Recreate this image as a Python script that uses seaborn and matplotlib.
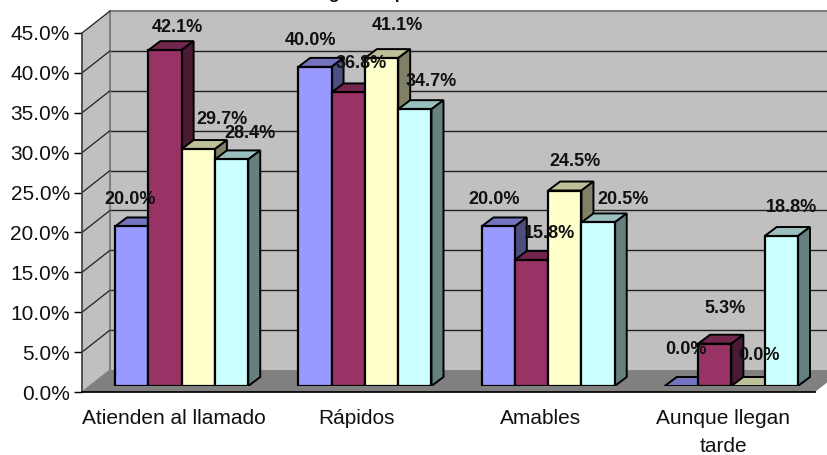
"""
Percent bars with the old spreadsheet 3D look: seaborn draws the front faces,
the walls and bar depth are added in display pixels.
"""
import numpy as np
import pandas as pd
import matplotlib
matplotlib.use("Agg")
import matplotlib.pyplot as plt
import seaborn as sns
from matplotlib.patches import Polygon
from matplotlib.transforms import IdentityTransform

categories = ["Atienden al llamado", "Rápidos", "Amables", "Aunque llegan\ntarde"]
series_names = ["A", "B", "C", "D"]
series_a = [20.0, 40.0, 20.0, 0.0]
series_b = [42.1, 36.8, 15.8, 5.3]
series_c = [29.7, 41.1, 24.5, 0.0]
series_d = [28.4, 34.7, 20.5, 18.8]
y_ticks = [0, 5, 10, 15, 20, 25, 30, 35, 40, 45]
title_text = "Imagen del personal"

# label offsets from the bar top centre, pixels (right, up): one row per series
label_offsets = [
    [(-2, 27), (-4, 26), (-4, 27), (5, 37)],
    [(12, 23), (13, 29), (18, 26), (10, 35)],
    [(24, 30), (15.5, 33), (10, 29.5), (11, 31)],
    [(18, 26), (16, 28), (24.5, 23), (10, 29)],
]

colors = ["#9999FF", "#993366", "#FFFFCC", "#CCFFFF"]
FIG_W, FIG_H = 827, 455
LEFT, RIGHT, BOTTOM, TOP = 82, 815, 392, 33  # front plane, pixels from top left
WALL_DX, WALL_DY = 28, 22
BAR_SHIFT_X, BAR_SHIFT_Y = 8, 6
DEPTH_X, DEPTH_Y = 12, 9

df = pd.DataFrame({
    "category": np.repeat(categories, len(series_names)),
    "series": series_names * len(categories),
    "value": np.ravel(np.column_stack([series_a, series_b, series_c, series_d])),
})

sns.set_theme(style="white")
plt.rcParams["font.family"] = ["Liberation Sans", "DejaVu Sans"]

fig = plt.figure(figsize=(FIG_W / 100, FIG_H / 100), dpi=100)


def add_axes_px(dx, dy):
    w = RIGHT - LEFT
    h = BOTTOM - TOP
    return fig.add_axes([(LEFT + dx) / FIG_W, (FIG_H - BOTTOM + dy) / FIG_H, w / FIG_W, h / FIG_H])


def add_poly(points, face, zorder=1):
    # points are (x, y) in pixels measured from the top left of the picture
    pts = [(x, FIG_H - y) for x, y in points]
    fig.add_artist(Polygon(pts, closed=True, facecolor=face, edgecolor="none",
                           transform=IdentityTransform(), zorder=zorder))


def shade(color, factor):
    rgb = np.array(matplotlib.colors.to_rgb(color))
    return tuple(rgb * factor)


# back wall with the gridlines
back = add_axes_px(WALL_DX, WALL_DY)
back.set_xlim(0, 4)
back.set_ylim(0, 45)
back.set_facecolor("#C0C0C0")
back.set_xticks([])
back.set_yticks([])
for level in y_ticks[1:-1]:
    back.axhline(level, color="#202020", lw=1.0)
for name in ["top", "left"]:
    back.spines[name].set_color("#808080")
    back.spines[name].set_linewidth(1.5)
back.spines["bottom"].set_visible(False)
back.spines["right"].set_visible(False)
back.set_zorder(1)

# front plane keeps the tick labels
front = add_axes_px(0, 0)
front.patch.set_visible(False)
front.set_zorder(2)
front.set_xlim(-0.5, 3.5)
front.set_ylim(0, 45)
front.set_yticks(y_ticks)
front.set_yticklabels([f"{v:.1f}%" for v in y_ticks], fontsize=15, color="#111111")
front.set_xticks(np.arange(len(categories)))
front.set_xticklabels(categories, fontsize=15, color="#111111", linespacing=1.65)
front.set_xticks(np.arange(len(categories) + 1) - 0.5, minor=True)
front.tick_params(axis="x", which="major", length=0, pad=12)
front.tick_params(axis="x", which="minor", length=4.3, width=1, color="black")
front.tick_params(axis="y", length=5.8, width=1, color="black", left=True, pad=3)
for name in ["top", "right"]:
    front.spines[name].set_visible(False)
front.spines["bottom"].set_color("black")
front.spines["left"].set_color("#404040")

# side wall, floor and the diagonal grid lines
add_poly([(LEFT, BOTTOM), (LEFT + WALL_DX, BOTTOM - WALL_DY), (LEFT + WALL_DX, TOP - WALL_DY), (LEFT, TOP)],
         "#C0C0C0", zorder=0.5)
add_poly([(LEFT, BOTTOM), (LEFT + WALL_DX, BOTTOM - WALL_DY), (RIGHT + WALL_DX, BOTTOM - WALL_DY), (RIGHT, BOTTOM)],
         "#808080", zorder=1.5)
for level in y_ticks:
    _, y_disp = front.transData.transform((0, level))
    fig.add_artist(plt.Line2D([LEFT, LEFT + WALL_DX], [y_disp, y_disp + WALL_DY],
                              color="#202020" if level else "#808080", lw=0.9,
                              transform=IdentityTransform(), zorder=1.6))

# bars
bars = add_axes_px(BAR_SHIFT_X, BAR_SHIFT_Y)
bars.set_zorder(3)
bars.patch.set_visible(False)
sns.barplot(data=df, x="category", y="value", hue="series", hue_order=series_names, order=categories,
            palette=colors, saturation=1, width=0.727, gap=0, edgecolor="black", linewidth=1.6,
            legend=False, ax=bars)
bars.set_xlim(-0.5, 3.5)
bars.set_ylim(0, 45)
bars.axis("off")

for s_idx, container in enumerate(bars.containers):
    for c_idx, patch in enumerate(container):
        value = patch.get_height()
        (x0, y0), (x1, y1) = bars.transData.transform(
            [(patch.get_x(), 0), (patch.get_x() + patch.get_width(), value)])
        dx, dy = DEPTH_X, DEPTH_Y
        # top and side faces sit just under the front face of the same series
        top = Polygon([(x0, y1), (x0 + dx, y1 + dy), (x1 + dx, y1 + dy), (x1, y1)], closed=True,
                      facecolor=shade(colors[s_idx], 0.75), edgecolor="black", linewidth=1.4,
                      transform=IdentityTransform(), zorder=1.5 + s_idx)
        side = Polygon([(x1, y0), (x1 + dx, y0 + dy), (x1 + dx, y1 + dy), (x1, y1)], closed=True,
                       facecolor=shade(colors[s_idx], 0.5), edgecolor="black", linewidth=1.4,
                       transform=IdentityTransform(), zorder=1.5 + s_idx)
        bars.add_patch(top)
        bars.add_patch(side)
        patch.set_zorder(2 + s_idx)
        if value == 0:
            patch.set_visible(False)
        off_x, off_y = label_offsets[s_idx][c_idx]
        bars.annotate(f"{value:.1f}%", xy=((x0 + x1) / 2 + off_x, y1 + off_y), xycoords=IdentityTransform(),
                      ha="center", va="center", fontsize=13, fontweight="bold", color="#111111",
                      zorder=20, annotation_clip=False)

# the title is cut by the top edge in the reference, only the descenders show
fig.text(383 / FIG_W, 1 + 1 / FIG_H, title_text, ha="center", va="baseline", fontsize=12.5, fontweight="bold",
         color="#111111")

fig.savefig("out.png", dpi=100)
